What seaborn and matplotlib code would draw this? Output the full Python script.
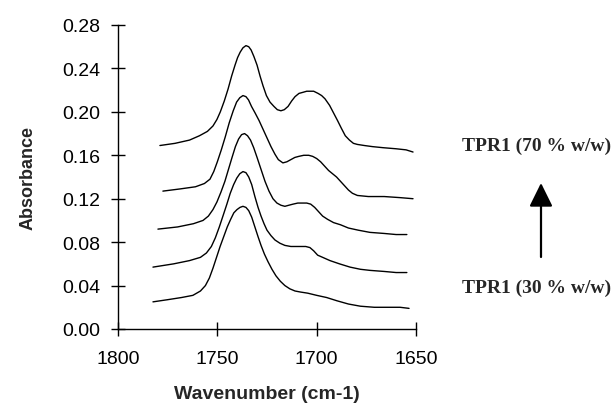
import matplotlib
matplotlib.use("Agg")
import matplotlib.pyplot as plt
import seaborn as sns
import pandas as pd

# Wavenumber (cm-1) and absorbance for each spectrum
wn_70 = [1778.9, 1771.3, 1764.0, 1759.0, 1755.0, 1752.2, 1750.2, 1748.5, 1746.5, 1744.6, 1742.8, 1741.1,
         1739.8, 1738.5, 1737.1, 1735.6, 1734.2, 1733.0, 1731.6, 1730.0, 1728.5, 1727.0, 1725.3, 1723.5,
         1721.5, 1719.8, 1718.0, 1716.3, 1714.4, 1712.6, 1710.9, 1708.9, 1706.9, 1705.0, 1703.4, 1701.5,
         1699.3, 1697.5, 1695.8, 1693.5, 1691.5, 1689.5, 1687.6, 1685.6, 1683.5, 1681.5, 1679.5, 1676.0,
         1672.0, 1666.6, 1660.0, 1655.0, 1651.5]
ab_70 = [0.169, 0.171, 0.174, 0.178, 0.182, 0.187, 0.193, 0.200, 0.210, 0.221, 0.233, 0.243,
         0.250, 0.255, 0.259, 0.261, 0.260, 0.257, 0.251, 0.243, 0.233, 0.224, 0.215, 0.209,
         0.205, 0.202, 0.201, 0.202, 0.205, 0.210, 0.214, 0.217, 0.218, 0.219, 0.219, 0.219,
         0.217, 0.215, 0.212, 0.206, 0.199, 0.192, 0.185, 0.178, 0.174, 0.171, 0.170, 0.169,
         0.168, 0.167, 0.166, 0.165, 0.163]

wn_60 = [1777.4, 1768.8, 1761.0, 1756.5, 1753.7, 1751.8, 1750.0, 1748.0, 1746.0, 1744.0, 1742.0, 1740.3,
         1738.7, 1737.1, 1735.6, 1734.3, 1732.8, 1731.0, 1729.0, 1727.0, 1725.0, 1723.0, 1721.0, 1719.3,
         1717.0, 1715.0, 1713.0, 1711.0, 1709.0, 1706.5, 1704.0, 1702.0, 1700.0, 1698.0, 1696.0, 1694.0,
         1692.0, 1690.0, 1688.0, 1686.0, 1684.0, 1682.0, 1679.5, 1674.0, 1666.0, 1658.0, 1651.5]
ab_60 = [0.127, 0.129, 0.131, 0.134, 0.138, 0.145, 0.154, 0.165, 0.177, 0.190, 0.201, 0.209,
         0.213, 0.215, 0.214, 0.211, 0.205, 0.199, 0.192, 0.184, 0.176, 0.168, 0.161, 0.156,
         0.153, 0.154, 0.156, 0.158, 0.159, 0.160, 0.160, 0.159, 0.157, 0.154, 0.150, 0.146,
         0.143, 0.140, 0.136, 0.132, 0.128, 0.125, 0.123, 0.122, 0.122, 0.121, 0.120]

wn_50 = [1779.9, 1770.0, 1762.0, 1757.2, 1754.5, 1752.2, 1750.2, 1748.2, 1746.2, 1744.4, 1742.6, 1740.9,
         1739.3, 1737.8, 1736.3, 1734.8, 1733.3, 1731.7, 1730.0, 1728.0, 1726.0, 1724.0, 1722.0, 1720.0,
         1718.0, 1716.0, 1714.0, 1711.9, 1709.5, 1707.0, 1705.0, 1703.0, 1701.0, 1699.0, 1697.0, 1694.5,
         1691.5, 1688.0, 1684.0, 1679.0, 1673.2, 1666.0, 1660.0, 1654.6]
ab_50 = [0.092, 0.094, 0.097, 0.100, 0.104, 0.110, 0.117, 0.126, 0.136, 0.147, 0.158, 0.168,
         0.175, 0.179, 0.180, 0.178, 0.174, 0.167, 0.158, 0.147, 0.136, 0.127, 0.120, 0.116,
         0.114, 0.113, 0.114, 0.115, 0.116, 0.116, 0.116, 0.115, 0.112, 0.108, 0.104, 0.101,
         0.098, 0.096, 0.093, 0.091, 0.089, 0.088, 0.087, 0.087]

wn_40 = [1782.4, 1772.0, 1764.0, 1758.5, 1755.5, 1753.0, 1751.0, 1749.0, 1747.0, 1745.2, 1743.5, 1741.8,
         1740.2, 1738.7, 1737.1, 1735.6, 1734.2, 1732.7, 1731.1, 1729.5, 1728.0, 1726.5, 1725.0, 1723.0,
         1721.0, 1718.5, 1716.0, 1713.0, 1710.0, 1707.5, 1705.5, 1703.4, 1701.5, 1699.5, 1697.0, 1693.3,
         1688.5, 1683.2, 1678.0, 1673.2, 1666.0, 1660.0, 1654.6]
ab_40 = [0.057, 0.060, 0.063, 0.066, 0.070, 0.076, 0.084, 0.094, 0.105, 0.115, 0.125, 0.133,
         0.139, 0.143, 0.145, 0.144, 0.140, 0.133, 0.122, 0.112, 0.104, 0.097, 0.091, 0.086,
         0.082, 0.079, 0.077, 0.076, 0.076, 0.076, 0.076, 0.075, 0.072, 0.068, 0.066, 0.063,
         0.060, 0.057, 0.055, 0.054, 0.053, 0.052, 0.052]

wn_30 = [1782.4, 1775.0, 1768.0, 1762.3, 1758.5, 1756.0, 1754.0, 1752.2, 1750.4, 1748.6, 1746.8, 1745.0,
         1743.3, 1741.7, 1740.1, 1738.6, 1737.1, 1735.6, 1734.2, 1732.7, 1731.1, 1729.5, 1728.0, 1726.3,
         1724.5, 1722.5, 1720.5, 1718.3, 1716.0, 1713.5, 1710.9, 1708.0, 1704.5, 1700.0, 1695.0, 1689.8,
         1684.0, 1678.0, 1671.0, 1664.0, 1658.0, 1653.5]
ab_30 = [0.025, 0.027, 0.029, 0.031, 0.035, 0.040, 0.047, 0.056, 0.066, 0.076, 0.085, 0.094,
         0.101, 0.107, 0.110, 0.112, 0.113, 0.112, 0.109, 0.103, 0.094, 0.085, 0.077, 0.069,
         0.062, 0.055, 0.049, 0.044, 0.040, 0.037, 0.035, 0.034, 0.033, 0.031, 0.029, 0.026,
         0.023, 0.021, 0.020, 0.020, 0.020, 0.019]

x_ticks = [1800, 1750, 1700, 1650]
y_ticks = [0.00, 0.04, 0.08, 0.12, 0.16, 0.20, 0.24, 0.28]
label_top = "TPR1 (70 % w/w)"
label_bottom = "TPR1 (30 % w/w)"

series = [("70", wn_70, ab_70), ("60", wn_60, ab_60), ("50", wn_50, ab_50),
          ("40", wn_40, ab_40), ("30", wn_30, ab_30)]

sns.set_style("ticks")
plt.rcParams["font.family"] = ["Liberation Sans", "DejaVu Sans"]
plt.rcParams["lines.solid_joinstyle"] = "round"

fig = plt.figure(figsize=(6.15, 4.06), dpi=100)
ax = fig.add_axes([118 / 615, 76 / 406, 298 / 615, 304 / 406])

for name, wn, ab in series:
    df = pd.DataFrame({"wn": wn, "ab": ab})
    sns.lineplot(data=df, x="wn", y="ab", ax=ax, color="black", lw=1.0,
                 sort=False, estimator=None)

ax.set_xlim(1800, 1650)
ax.set_ylim(0, 0.28)
ax.set_xticks(x_ticks)
ax.set_xticklabels([str(t) for t in x_ticks])
ax.set_yticks(y_ticks)
ax.set_yticklabels([f"{t:.2f}" for t in y_ticks])
for s in ["top", "right"]:
    ax.spines[s].set_visible(False)
for s in ["left", "bottom"]:
    ax.spines[s].set_linewidth(1.0)
    ax.spines[s].set_color("black")
ax.tick_params(direction="inout", length=10, width=1.0, labelsize=14, colors="black")
ax.tick_params(axis="y", pad=8)
ax.tick_params(axis="x", pad=10)
ax.set_xlabel("Wavenumber (cm-1)", fontsize=14, fontweight="bold", labelpad=13)
ax.set_ylabel("Absorbance", fontsize=13, fontweight="bold", labelpad=18)
ax.patch.set_alpha(0)

fig.text(537 / 615, (406 - 146) / 406, label_top, ha="center", va="center",
         fontsize=14, fontweight="bold", family=["Liberation Serif", "DejaVu Serif"])
fig.text(537 / 615, (406 - 288) / 406, label_bottom, ha="center", va="center",
         fontsize=14, fontweight="bold", family=["Liberation Serif", "DejaVu Serif"])
ax.annotate("", xy=(541, 406 - 184), xycoords="figure pixels",
            xytext=(541, 406 - 258), textcoords="figure pixels",
            arrowprops=dict(arrowstyle="-|>,head_width=0.42,head_length=0.85",
                            mutation_scale=17, lw=1.6, color="black",
                            shrinkA=0, shrinkB=0))

fig.savefig("out.png", dpi=100)
